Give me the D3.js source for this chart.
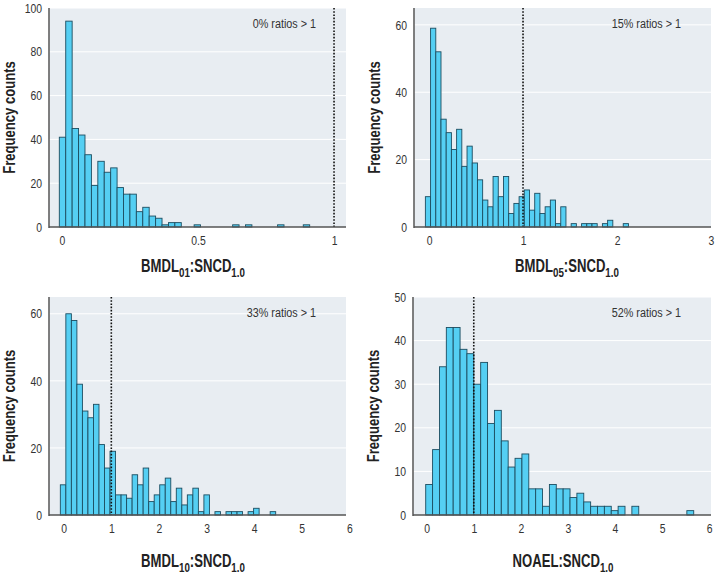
<!DOCTYPE html>
<html><head><meta charset="utf-8">
<script src="https://cdn.jsdelivr.net/npm/d3@7"></script>
<style>
html,body{margin:0;padding:0;background:#fff;}
svg{display:block;font-family:'Liberation Sans',Arial,sans-serif;}
</style></head>
<body>
<svg id="chart" width="717" height="575"></svg>
<script>
// ---- data ----
const countsA = [41,94,45,42,33,19,30,25,27,18,15,15,7,9,5,4,1,2,2,0,0,1,0,0,0,0,0,1,0,1,0,0,0,0,1,0,0,0,1];
const countsB = [9,59,52,32,28,23,29,18,24,19,14,8,6,15,9,15,4,7,9,11,5,10,4,6,8,1,6,0,1,0,1,1,1,0,1,2,0,0,1];
const countsC = [9,60,58,39,31,29,33,21,14,19,6,6,5,12,9,14,4,6,9,11,4,8,3,6,8,1,6,0,1,0,1,1,1,0,1,2,0,0,1];
const countsD = [7,15,34,43,43,38,37,30,35,21,24,17,11,13,14,6,6,2,7,6,6,4,5,3,2,2,2,1,2,0,2,0,0,0,0,0,0,0,1];
const binStarts = [-0.0099, -0.039, -0.071, -0.021];
const binWidths = [0.0236, 0.0554, 0.116, 0.146];
const xDomains = [[-0.0478,1.044],[-0.16,3.0],[-0.309,5.93],[-0.291,6.04]];
const xTicksA = [0,0.5,1];
const xTicksB = [0,1,2,3];
const xTicksC = [0,1,2,3,4,5,6];
const xTicksD = [0,1,2,3,4,5,6];
const yMaxes = [100,65,65,50];
const yTicksA = [0,20,40,60,80,100];
const yTicksB = [0,20,40,60];
const yTicksC = [0,20,40,60];
const yTicksD = [0,10,20,30,40,50];
const titleMain = ["BMDL","BMDL","BMDL","NOAEL"];
const titleSub = ["01","05","10",""];
const notes = ["0% ratios > 1","15% ratios > 1","33% ratios > 1","52% ratios > 1"];
const refValue = 1;

// ---- layout ----
const boxes = [
  {left:49, right:346, top:8, bottom:227, titleX:193, titleY:272},
  {left:414, right:711, top:8, bottom:227, titleX:567, titleY:272},
  {left:49, right:346, top:297, bottom:515, titleX:193, titleY:567},
  {left:413, right:711, top:297, bottom:515, titleX:563, titleY:567}
];
const countsAll = [countsA,countsB,countsC,countsD];
const xTicksAll = [xTicksA,xTicksB,xTicksC,xTicksD];
const yTicksAll = [yTicksA,yTicksB,yTicksC,yTicksD];
const SX = 0.8;   // horizontal condensing of small text
const SXB = 0.75; // condensing of bold titles

const svg = d3.select("#chart");
const fmt = d => d===0.5 ? "0.5" : String(d);

boxes.forEach((b,i)=>{
  const x = d3.scaleLinear().domain(xDomains[i]).range([b.left,b.right]);
  const y = d3.scaleLinear().domain([0,yMaxes[i]]).range([b.bottom,b.top]);
  const g = svg.append("g");
  g.append("rect").attr("x",b.left).attr("y",b.top).attr("width",b.right-b.left).attr("height",b.bottom-b.top).attr("fill","#e8edf2");
  // gridlines
  g.selectAll("line.grid").data(yTicksAll[i].filter(v=>v>0)).enter().append("line")
    .attr("x1",b.left).attr("x2",b.right).attr("y1",d=>y(d)).attr("y2",d=>y(d))
    .attr("stroke","#ffffff").attr("stroke-width",1);
  // bars
  const data = countsAll[i].map((c,k)=>({c, x0:binStarts[i]+k*binWidths[i], x1:binStarts[i]+(k+1)*binWidths[i]})).filter(d=>d.c>0);
  g.selectAll("rect.bar").data(data).enter().append("rect")
    .attr("x",d=>x(d.x0)).attr("width",d=>x(d.x1)-x(d.x0))
    .attr("y",d=>y(d.c)).attr("height",d=>y(0)-y(d.c))
    .attr("fill","#55cff3").attr("stroke","#1c4d60").attr("stroke-width",0.9);
  // reference dotted line
  g.append("line").attr("x1",x(refValue)).attr("x2",x(refValue)).attr("y1",b.top).attr("y2",b.bottom)
    .attr("stroke","#111").attr("stroke-width",1.6).attr("stroke-dasharray","1.6,1.6");
  // axes
  const ya = d3.axisLeft(y).tickValues(yTicksAll[i]).tickSize(0).tickPadding(8).tickFormat(fmt);
  const yg = g.append("g").attr("transform",`translate(${b.left},0)`).call(ya);
  yg.select(".domain").remove();
  yg.selectAll("text").attr("font-size",13).attr("fill","#333")
    .attr("transform",`scale(${SX},1)`).attr("x",-7/SX);
  const xa = d3.axisBottom(x).tickValues(xTicksAll[i]).tickSize(0).tickPadding(9).tickFormat(fmt);
  const xg = g.append("g").attr("transform",`translate(0,${b.bottom})`).call(xa);
  xg.select(".domain").remove();
  xg.selectAll("text").attr("font-size",13).attr("fill","#333").attr("transform",`scale(${SX},1)`);
  g.append("line").attr("x1",b.left).attr("x2",b.left).attr("y1",b.top).attr("y2",b.bottom+1)
    .attr("stroke","#606060").attr("stroke-width",1.6);
  g.append("line").attr("x1",b.left).attr("x2",b.right).attr("y1",b.bottom).attr("y2",b.bottom)
    .attr("stroke","#555").attr("stroke-width",1.6);
  // note
  g.append("text").attr("transform",`translate(${b.right-30},${b.top+20}) scale(${SX},1)`).attr("text-anchor","end")
    .attr("font-size",13.5).attr("fill","#333").text(notes[i]);
  // y title
  g.append("text").attr("transform",`translate(${b.left-34},${(b.top+b.bottom)/2}) rotate(-90) scale(0.77,1)`)
    .attr("text-anchor","middle").attr("font-size",17).attr("font-weight","bold").attr("fill","#222")
    .text("Frequency counts");
  // x title
  const t = g.append("text").attr("transform",`translate(${b.titleX},${b.titleY}) scale(${SXB},1)`).attr("text-anchor","middle")
    .attr("font-size",17.5).attr("font-weight","bold").attr("fill","#222");
  t.append("tspan").text(titleMain[i]);
  if (titleSub[i]) {
    t.append("tspan").attr("dy",5).attr("font-size",13).text(titleSub[i]);
    t.append("tspan").attr("dy",-5).text(":SNCD");
  } else {
    t.append("tspan").text(":SNCD");
  }
  t.append("tspan").attr("dy",5).attr("font-size",13).text("1.0");
});
</script>
</body></html>
